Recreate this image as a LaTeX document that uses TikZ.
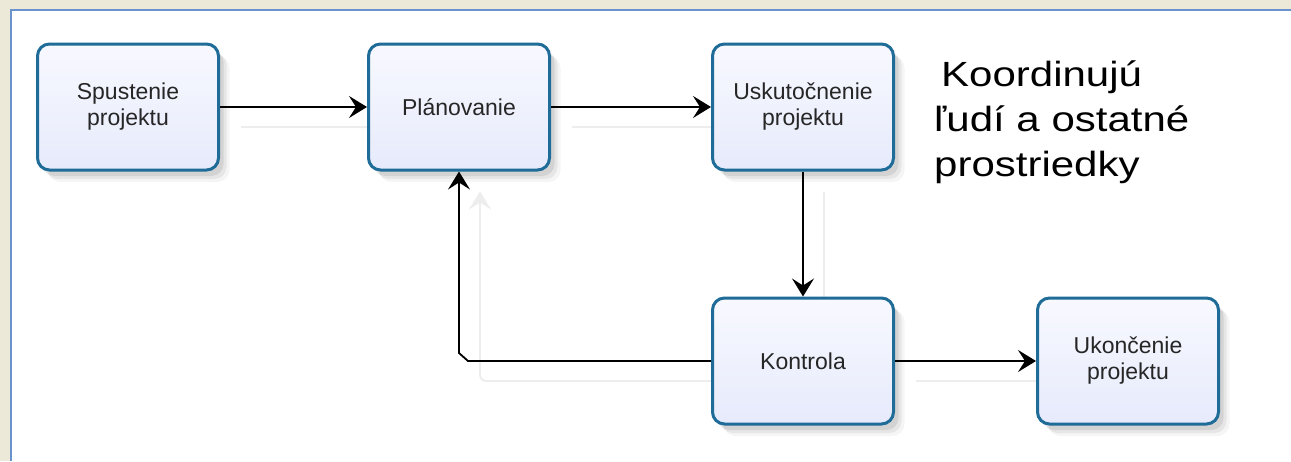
\documentclass[tikz,border=0pt]{standalone}
\usepackage{fontspec}
\setmainfont{Liberation Sans}
\newfontfamily\notefont[FakeStretch=1.2]{Liberation Sans}
\usetikzlibrary{positioning, arrows.meta, shadows, backgrounds}
\definecolor{panel}{RGB}{236,233,216}
\definecolor{frameblue}{RGB}{106,147,206}
\definecolor{boxline}{RGB}{31,108,152}
\definecolor{boxtop}{RGB}{248,249,255}
\definecolor{boxbottom}{RGB}{230,234,251}
\tikzset{
    %Define style for boxes
    phase/.style={
           rectangle,
           rounded corners=12pt,
           draw=boxline, line width=3pt,
           top color=boxtop, bottom color=boxbottom,
           minimum width=181pt,
           minimum height=126pt,
           align=center,
           text=black!85,
           font=\fontsize{23}{26}\selectfont,
           general shadow={fill=black, opacity=.04, shadow xshift=11pt, shadow yshift=-12pt},
           general shadow={fill=black, opacity=.06, shadow xshift=8pt, shadow yshift=-9pt},
           general shadow={fill=black, opacity=.08, shadow xshift=5pt, shadow yshift=-6pt}},
%
    % Define arrow style
    flow/.style={
           -{Stealth[length=18pt, width=22pt, inset=7pt]},
           line width=1.8pt,
           draw=black},
%
    ghost/.style={
           flow,
           draw=black!7,
           rounded corners=6pt}
}
\begin{document}
\begin{tikzpicture}[x=1pt, y=-1pt]
  \useasboundingbox (0,0) rectangle (1291,461);

  \node[phase] (start) at (128,107) {Spustenie\\projektu};
  \node[phase, right=147pt of start] (plan) {Plánovanie};
  \node[phase, right=160pt of plan] (exec) {Uskutočnenie\\projektu};
  \node[phase, below=125pt of exec] (ctrl) {Kontrola};
  \node[phase, right=141pt of ctrl] (finish) {Ukončenie\\projektu};

  \node[anchor=north west, align=left, inner sep=0pt,
        font=\notefont\fontsize{35}{45}\selectfont] (note) at (934,61)
        {\hspace*{7pt}Koordinujú\\ľudí a ostatné\\prostriedky};

  \coordinate (turn) at (plan.south |- ctrl.west);

  \begin{scope}[on background layer]
    \fill[panel] (0,0) rectangle (1291,461);
    \fill[white] (11,10) rectangle (1291,461);
    \draw[frameblue, line width=2pt] (11,461) -- (11,10) -- (1291,10);
    % faint copies of the connectors
    \begin{scope}[transform canvas={xshift=21pt, yshift=-20pt}]
      \draw[ghost] (start.east) -- (plan.west);
      \draw[ghost] (plan.east) -- (exec.west);
      \draw[ghost] (exec.south) -- (ctrl.north);
      \draw[ghost] (ctrl.west) -| (plan.south);
      \draw[ghost] (ctrl.east) -- (finish.west);
    \end{scope}
  \end{scope}

  \draw[flow] (start.east) -- (plan.west);
  \draw[flow] (plan.east) -- (exec.west);
  \draw[flow] (exec.south) -- (ctrl.north);
  \draw[flow] (ctrl.west) -- ([xshift=9pt]turn) -- ([yshift=8pt]turn) -- (plan.south);
  \draw[flow] (ctrl.east) -- (finish.west);
\end{tikzpicture}
\end{document}
